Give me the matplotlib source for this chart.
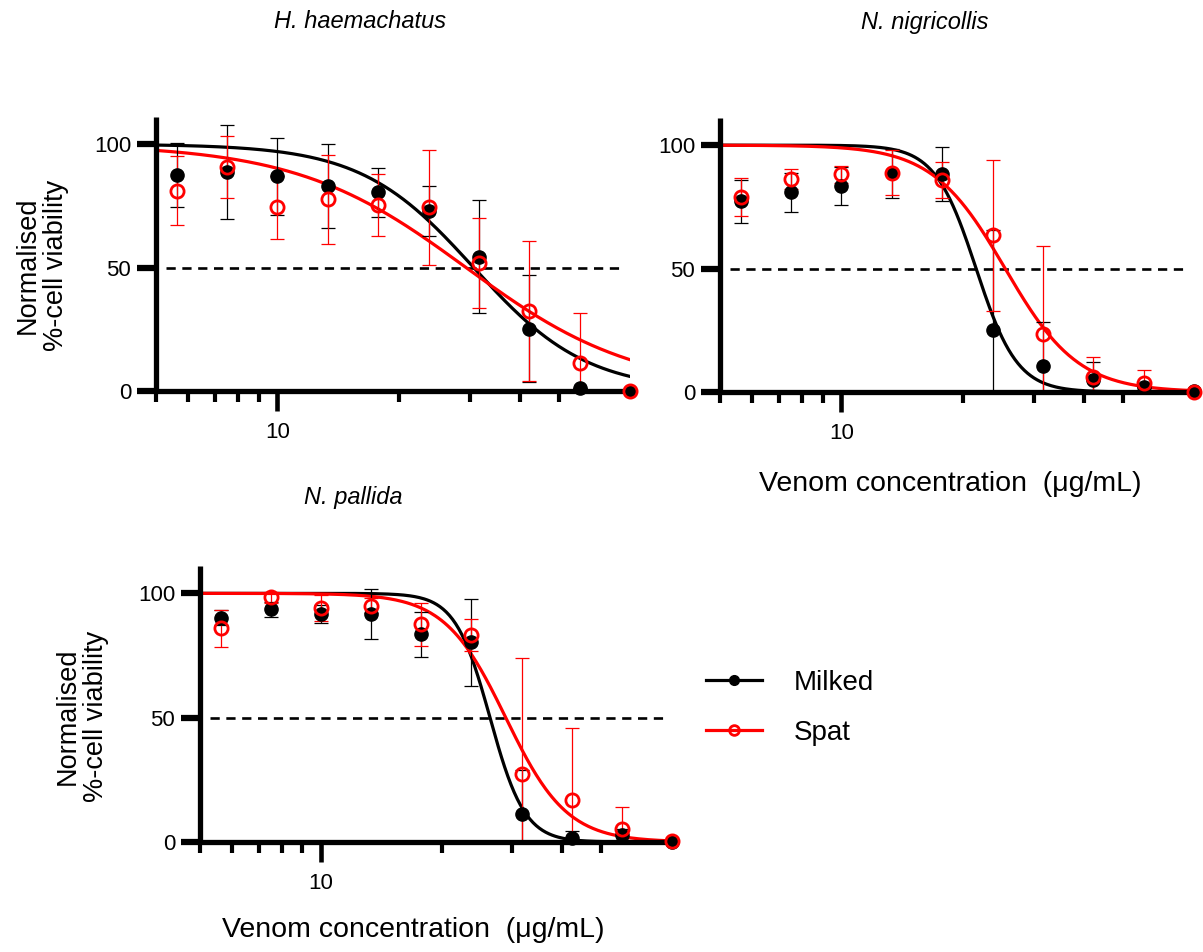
import matplotlib.pyplot as plt
import numpy as np
from matplotlib.lines import Line2D
from matplotlib.ticker import FixedLocator, NullFormatter

plt.rcParams['font.family'] = ['Liberation Sans', 'DejaVu Sans']

# venom concentrations (ug/mL)
conc = [5.63, 7.5, 10.0, 13.33, 17.78, 23.73, 31.64, 42.19, 56.25, 75.0]

# H. haemachatus
hh_milk = [87.5, 88.8, 87.0, 82.9, 80.5, 72.8, 54.4, 25.2, 1.2, 0.0]
hh_milk_err = [13, 19, 15.5, 17, 10, 10.2, 23, 21.6, 0, 0]
hh_spat = [81.1, 90.6, 74.4, 77.6, 75.5, 74.4, 51.8, 32.3, 11.5, 0.0]
hh_spat_err = [14, 12.6, 12.8, 18, 12.6, 23.4, 18.2, 28.3, 20, 0]

# N. nigricollis
nn_milk = [77.2, 80.9, 83.6, 88.6, 88.3, 25.1, 10.7, 4.7, 2.0, 0.4]
nn_milk_err = [8.7, 8, 7.7, 10, 11, 40.7, 17.5, 7.4, 0, 0]
nn_spat = [78.9, 86.2, 88.2, 88.9, 85.9, 63.5, 23.5, 6.0, 3.8, 0.0]
nn_spat_err = [7.8, 4, 3.5, 9, 7.4, 30.5, 35.8, 8, 5, 0]

# N. pallida
npl_milk = [90.2, 93.6, 91.7, 91.7, 83.5, 80.3, 11.1, 1.7, 2.95, 0.0]
npl_milk_err = [3, 3, 3.7, 10, 9, 17.4, 17.8, 2.6, 2.4, 0]
npl_spat = [85.9, 98.4, 94.0, 95.0, 87.5, 83.2, 27.5, 17.0, 5.4, 0.4]
npl_spat_err = [7.4, 2.3, 5.2, 3, 8.7, 6.5, 46.7, 29, 8.7, 0]

# fitted dose-response curves: top, bottom, IC50, hill slope
hh_milk_fit = [100, 0, 30.7, 3.1]
hh_spat_fit = [100, 0, 29.4, 2.06]
nn_milk_fit = [100, 0, 21.6, 8.5]
nn_spat_fit = [100, 0, 25.5, 4.8]
npl_milk_fit = [100, 0, 26.4, 10]
npl_spat_fit = [100, 0, 28.9, 5.7]

titles = ['H. haemachatus', 'N. nigricollis', 'N. pallida']
RED = '#ff0000'


def fit_curve(p, x):
    top, bottom, ic50, hill = p
    return bottom + (top - bottom) / (1 + (x / ic50) ** hill)


def panel(ax, milk, milk_err, spat, spat_err, milk_fit, spat_fit):
    xs = np.logspace(np.log10(5), np.log10(75), 300)
    ax.plot([5.3, 73], [50, 50], color='black', lw=1.9, ls=(0, (3.5, 2.5)))
    ax.plot(xs, fit_curve(milk_fit, xs), color='black', lw=2.3)
    ax.plot(xs, fit_curve(spat_fit, xs), color=RED, lw=2.3)
    ax.errorbar(conc, milk, yerr=milk_err, fmt='none', ecolor='black',
                elinewidth=0.9, capsize=5, capthick=0.9)
    ax.errorbar(conc, spat, yerr=spat_err, fmt='none', ecolor=RED,
                elinewidth=0.9, capsize=5, capthick=0.9)
    ax.plot(conc, milk, 'o', color='black', ms=9.5, clip_on=False, zorder=5)
    ax.plot(conc, spat, 'o', mfc='none', mec=RED, mew=2, ms=9.5,
            clip_on=False, zorder=6)

    ax.set_xscale('log')
    ax.set_xlim(5, 75)
    ax.set_ylim(0, 111)
    for s in ['top', 'right']:
        ax.spines[s].set_visible(False)
    for s in ['left', 'bottom']:
        ax.spines[s].set_linewidth(3.8)
        ax.spines[s].set_capstyle('butt')
    ax.xaxis.set_major_locator(FixedLocator([10]))
    ax.xaxis.set_minor_locator(FixedLocator([5, 6, 7, 8, 9, 20, 30, 40, 50]))
    ax.set_xticklabels(['10'])
    ax.xaxis.set_minor_formatter(NullFormatter())
    ax.set_yticks([0, 50, 100])
    ax.tick_params(axis='x', which='major', length=14.5, width=3.3,
                   labelsize=16, pad=8)
    ax.tick_params(axis='x', which='minor', length=8, width=3)
    ax.tick_params(axis='y', which='major', length=14, width=4.5,
                   labelsize=16, pad=4)


fig = plt.figure(figsize=(12.03, 9.52), dpi=100)
W, H = 1203, 952

ax1 = fig.add_axes([156 / W, 1 - 391 / H, 474 / W, 274 / H])
ax2 = fig.add_axes([720 / W, 1 - 392 / H, 474 / W, 274 / H])
ax3 = fig.add_axes([200 / W, 1 - 842 / H, 472 / W, 276 / H])

panel(ax1, hh_milk, hh_milk_err, hh_spat, hh_spat_err, hh_milk_fit, hh_spat_fit)
panel(ax2, nn_milk, nn_milk_err, nn_spat, nn_spat_err, nn_milk_fit, nn_spat_fit)
panel(ax3, npl_milk, npl_milk_err, npl_spat, npl_spat_err, npl_milk_fit, npl_spat_fit)

fig.text(360 / W, 1 - 22 / H, titles[0], style='italic', fontsize=17,
         ha='center', va='center')
fig.text(925 / W, 1 - 22 / H, titles[1], style='italic', fontsize=17,
         ha='center', va='center')
fig.text(353 / W, 1 - 497 / H, titles[2], style='italic', fontsize=17,
         ha='center', va='center')

ylab = 'Normalised\n%-cell viability'
fig.text(42 / W, 1 - 265 / H, ylab, rotation=90, fontsize=19.5,
         ha='center', va='center', multialignment='center', linespacing=1.1)
fig.text(82 / W, 1 - 716 / H, ylab, rotation=90, fontsize=19.5,
         ha='center', va='center', multialignment='center', linespacing=1.1)

xlab = 'Venom concentration  (\u03bcg/mL)'
fig.text(950 / W, 1 - 484 / H, xlab, fontsize=20.5, ha='center', va='center')
fig.text(413 / W, 1 - 930 / H, xlab, fontsize=20.5, ha='center', va='center')

handles = [
    Line2D([], [], color='black', lw=2.3, marker='o', ms=7),
    Line2D([], [], color=RED, lw=2.3, marker='o', ms=7, mfc='none', mew=2),
]
fig.legend(handles, ['Milked', 'Spat'], loc='center left',
           bbox_to_anchor=(706 / W, 1 - 708 / H), frameon=False, fontsize=20,
           handlelength=2.0, handletextpad=1.15, labelspacing=0.85,
           borderpad=0, borderaxespad=0)

fig.savefig('out.png', dpi=100)
